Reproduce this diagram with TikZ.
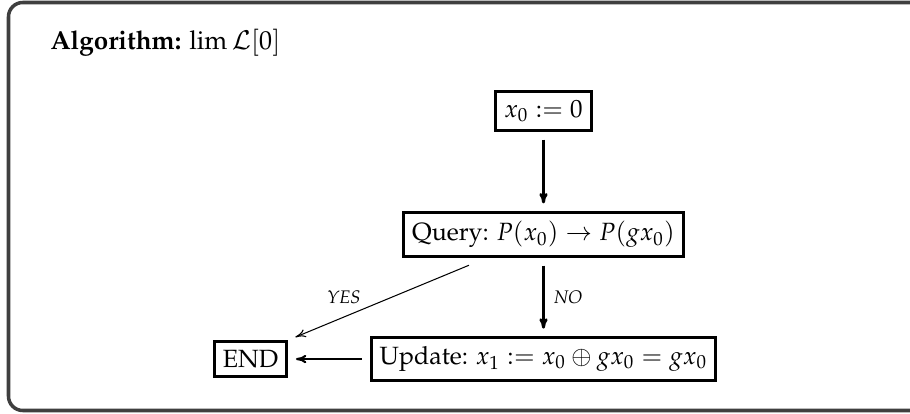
\documentclass[tikz,border=0pt]{standalone}
\usepackage[T1]{fontenc}
\usepackage{mathpazo}
\usetikzlibrary{arrows.meta, positioning, calc}

\definecolor{framegray}{HTML}{3F3F3F}

\tikzset{
    stepbox/.style={draw, line width=1.1pt, inner sep=3.3pt,
                    font=\fontsize{9.6pt}{12pt}\selectfont},
    flow/.style={line width=1.1pt},
    tag/.style={font=\scriptsize\itshape, inner sep=1pt},
}

\begin{document}
\begin{tikzpicture}[
    x=0.3846pt, y=-0.3846pt,
    -{To[length=4pt, width=3.2pt]},
    shorten >=3pt, shorten <=3pt,
    on grid,
]
    \useasboundingbox (0,0) rectangle (910,414);

    % outer frame
    \draw[-, shorten >=0pt, shorten <=0pt, line width=1.35pt, draw=framegray,
          rounded corners=5.5pt] (8.5,2.5) rectangle (935,410.5);

    \node[anchor=base west, inner sep=0pt] (title) at (50,49)
        {\textbf{Algorithm:} $\lim\mathcal{L}[0]$};

    \node[stepbox                          ] (init)   at (543.5,111) {$x_0 := 0$};
    \node[stepbox, below=47.5pt of init    ] (query)  {Query: $P(x_0) \to P(gx_0)$};
    \node[stepbox, below=47.9pt of query   ] (update) {Update: $x_1 := x_0 \oplus gx_0 = gx_0$};
    \node[stepbox, base left=112.7pt of update] (end) {END};

    \path
        (init)   edge [flow]                           (query)
        (query)  edge [flow] node [tag, right=2.5pt] {NO} (update)
        (update) edge [line width=0.8pt]              (end)
        ($(query.south west)!0.6!(query.south)$)
                 edge [line width=0.4pt, shorten <=7.5pt]
                      node [tag, pos=0.72, above=4pt] {YES} (end.north east)
    ;
\end{tikzpicture}
\end{document}
